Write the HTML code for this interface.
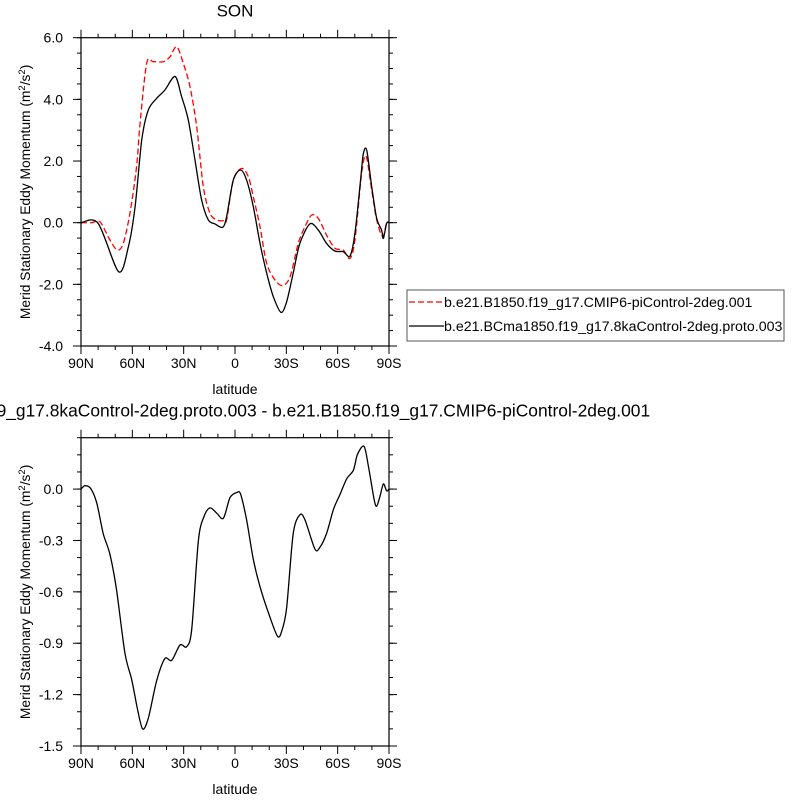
<!DOCTYPE html>
<html><head><meta charset="utf-8"><style>
body{margin:0;background:#fff}
svg{display:block;font-family:"Liberation Sans",sans-serif}
</style></head><body>
<svg id="chart" width="800" height="800" viewBox="0 0 800 800"></svg>
<script>
// top panel data (latitude in degrees, +N)
const latTopBlack=[90,80,68,62.3,58.4,54.5,50.7,45.8,41,35,31.2,27.3,23.4,19.5,15.6,11.7,7.2,4.9,1,-3.3,-6.8,-10.7,-14.6,-18.5,-22.4,-26.9,-30.2,-34,-37.9,-43.8,-48.7,-53.5,-58.4,-63.3,-67.2,-70.1,-73,-75,-77,-79.9,-82.8,-85.7,-86.7,-88.6,-90];
const valTopBlack=[0,-0.02,-1.59,-0.78,0.52,2.68,3.65,4.03,4.3,4.74,4.09,3.33,2.03,0.74,0.09,-0.04,-0.15,0.19,1.38,1.71,1.38,0.52,-0.67,-1.64,-2.4,-2.91,-2.56,-1.64,-0.67,-0.04,-0.24,-0.67,-0.92,-0.94,-1.08,-0.35,1.17,2.23,2.34,1.17,0.14,-0.24,-0.51,-0.02,0];
const latTopRed=[90,83.8,78.9,73.1,68.8,65.3,61.4,57.5,55.5,51.6,47.7,41.9,38,34.1,30.2,26.3,22.4,18.5,14.6,10.7,6.8,4.9,1,-3.9,-7.8,-10.7,-14.6,-18.5,-23.4,-27.9,-32.2,-37,-40.9,-44.8,-48.7,-53.5,-58.4,-63.3,-67.2,-70.1,-74,-76.6,-79.9,-82.8,-86.3,-88.6,-90];
const valTopRed=[0,0,0.03,-0.56,-0.89,-0.67,0.3,1.82,3.2,5.17,5.22,5.22,5.38,5.71,5.17,4.41,3.11,1.17,0.3,0.09,0.06,0.09,1.38,1.76,1.49,0.84,-0.13,-1.32,-1.86,-2.04,-1.75,-0.67,-0.13,0.25,0.14,-0.4,-0.83,-0.89,-1.16,-0.56,1.6,2.16,1.06,0.09,-0.45,0,0];
// bottom panel data (difference)
const latDiff=[90,87.7,84.4,80.8,77,73.1,69.2,64.3,60.4,57.1,54,50.7,45.8,41,37,32.1,28.3,25.3,21.4,18.1,14.6,10.7,6.8,2.9,-1,-3.3,-6.8,-10.7,-14.6,-20.5,-24.9,-27.3,-30.2,-34,-37.9,-40.9,-46.7,-49.6,-53.5,-57.5,-61.4,-65.3,-69.2,-71.5,-75.4,-78,-81.3,-82.8,-84.8,-86.7,-88.6,-90];
const valDiff=[0,0.02,0.004,-0.08,-0.26,-0.38,-0.59,-0.96,-1.11,-1.28,-1.4,-1.34,-1.12,-0.99,-1.0,-0.91,-0.92,-0.82,-0.3,-0.16,-0.11,-0.14,-0.17,-0.05,-0.02,-0.03,-0.18,-0.41,-0.57,-0.75,-0.86,-0.83,-0.69,-0.26,-0.15,-0.18,-0.35,-0.34,-0.26,-0.12,-0.03,0.06,0.11,0.2,0.25,0.13,-0.06,-0.1,-0.04,0.03,-0.01,0];
const xTickLats=[90,60,30,0,-30,-60,-90];
const xTickLabels=["90N","60N","30N","0","30S","60S","90S"];
const yTicksTop=[6,4,2,0,-2,-4];
const yTickLabelsTop=["6.0","4.0","2.0","0.0","-2.0","-4.0"];
const yTicksBot=[0,-0.3,-0.6,-0.9,-1.2,-1.5];
const yTickLabelsBot=["0.0","-0.3","-0.6","-0.9","-1.2","-1.5"];

const svg=document.getElementById('chart');
const NS="http://www.w3.org/2000/svg";
function mk(tag,attrs,parent){const e=document.createElementNS(NS,tag);for(const k in attrs)e.setAttribute(k,attrs[k]);(parent||svg).appendChild(e);return e;}
const X0=81,X1=389;
function xs(lat){return X0+(90-lat)/180*(X1-X0);}
function smooth(pts){
  let d='M'+pts[0][0].toFixed(1)+','+pts[0][1].toFixed(1);
  const t=0.15;
  for(let i=0;i<pts.length-1;i++){
    const p0=pts[i-1]||pts[i],p1=pts[i],p2=pts[i+1],p3=pts[i+2]||p2;
    const c1=[p1[0]+(p2[0]-p0[0])*t,p1[1]+(p2[1]-p0[1])*t];
    const c2=[p2[0]-(p3[0]-p1[0])*t,p2[1]-(p3[1]-p1[1])*t];
    d+='C'+c1.map(v=>v.toFixed(1)).join(',')+' '+c2.map(v=>v.toFixed(1)).join(',')+' '+p2[0].toFixed(1)+','+p2[1].toFixed(1);
  }
  return d;
}

function panel(name,top,bottom,ymin,ymax,yt,ytl,minorStep,title,tx,tsize,series){
  const g=mk('g',{});
  
  
  const ys=v=>bottom-(v-ymin)/(ymax-ymin)*(bottom-top);
  const nMinor=Math.round((ymax-ymin)/minorStep);
  for(let i=0;i<=nMinor;i++){const y=ys(ymin+i*minorStep);
    mk('line',{x1:X0-4,x2:X0,y1:y,y2:y,stroke:'#000','stroke-width':1},g);
    mk('line',{x1:X1,x2:X1+4,y1:y,y2:y,stroke:'#000','stroke-width':1},g);}
  yt.forEach((v,i)=>{const y=ys(v);
    mk('line',{x1:X0-8,x2:X0,y1:y,y2:y,stroke:'#000','stroke-width':1},g);
    mk('line',{x1:X1,x2:X1+8,y1:y,y2:y,stroke:'#000','stroke-width':1},g);
    const t=mk('text',{x:X0-18,y:y+5,'text-anchor':'end','font-size':14},g);t.textContent=ytl[i];
    
    });
  for(let lat=90;lat>=-90;lat-=10){const x=xs(lat);const major=lat%30===0;const L=major?8:4;
    mk('line',{x1:x,x2:x,y1:bottom,y2:bottom+L,stroke:'#000','stroke-width':1},g);
    mk('line',{x1:x,x2:x,y1:top-L,y2:top,stroke:'#000','stroke-width':1},g);}
  xTickLats.forEach((lat,i)=>{const t=mk('text',{x:xs(lat),y:bottom+22,'text-anchor':'middle','font-size':14},g);t.textContent=xTickLabels[i];
    
    });
  const xl=mk('text',{x:235,y:bottom+48,'text-anchor':'middle','font-size':14},g);xl.textContent='latitude';
  
  
  const cy=(top+bottom)/2;
  const yl=mk('text',{x:30,y:cy,'text-anchor':'middle','font-size':13.8,transform:`rotate(-90 30 ${cy})`},g);
  yl.innerHTML='Merid Stationary Eddy Momentum (m<tspan dy="-5" font-size="9.5">2</tspan><tspan dy="5">/s</tspan><tspan dy="-5" font-size="9.5">2</tspan><tspan dy="5">)</tspan>';
  
  
  const tt=mk('text',{x:tx,y:top-21,'text-anchor':'middle','font-size':tsize},g);tt.textContent=title;
  
  
  series.forEach(s=>{
    const pts=s.lat.map((l,i)=>[xs(l),ys(s.val[i])]);
    const p=mk('path',{d:smooth(pts),fill:'none',stroke:s.color,'stroke-width':1.3,'stroke-dasharray':s.dash||'none'},g);
    
    });
  const r=mk('rect',{x:X0,y:top,width:X1-X0,height:bottom-top,fill:'none',stroke:'#000','stroke-width':1.2},g);
  
  
}
panel('top-panel',37.7,346,-4,6,yTicksTop,yTickLabelsTop,0.5,'SON',235,17,[
  {lat:latTopRed,val:valTopRed,color:'#ff0000',dash:'6,3',name:'line-piControl'},
  {lat:latTopBlack,val:valTopBlack,color:'#000',name:'line-8kaControl'}]);
panel('bottom-panel',437.7,746,-1.5,0.3,yTicksBot,yTickLabelsBot,0.1,'b.e21.BCma1850.f19_g17.8kaControl-2deg.proto.003 - b.e21.B1850.f19_g17.CMIP6-piControl-2deg.001',246,17.4,[
  {lat:latDiff,val:valDiff,color:'#000',name:'line-difference'}]);
// legend
const lg=mk('g',{});


mk('rect',{x:407,y:290,width:377,height:51,fill:'#fff',stroke:'#555','stroke-width':1},lg);
mk('line',{x1:409,x2:444,y1:302,y2:302,stroke:'#ff0000','stroke-width':1.3,'stroke-dasharray':'6,3'},lg);
mk('line',{x1:409,x2:444,y1:326,y2:326,stroke:'#000','stroke-width':1.3},lg);
const l1=mk('text',{x:444,y:307,'font-size':14.2},lg);l1.textContent='b.e21.B1850.f19_g17.CMIP6-piControl-2deg.001';


const l2=mk('text',{x:444,y:331,'font-size':14.2},lg);l2.textContent='b.e21.BCma1850.f19_g17.8kaControl-2deg.proto.003';


</script>
</body></html>
